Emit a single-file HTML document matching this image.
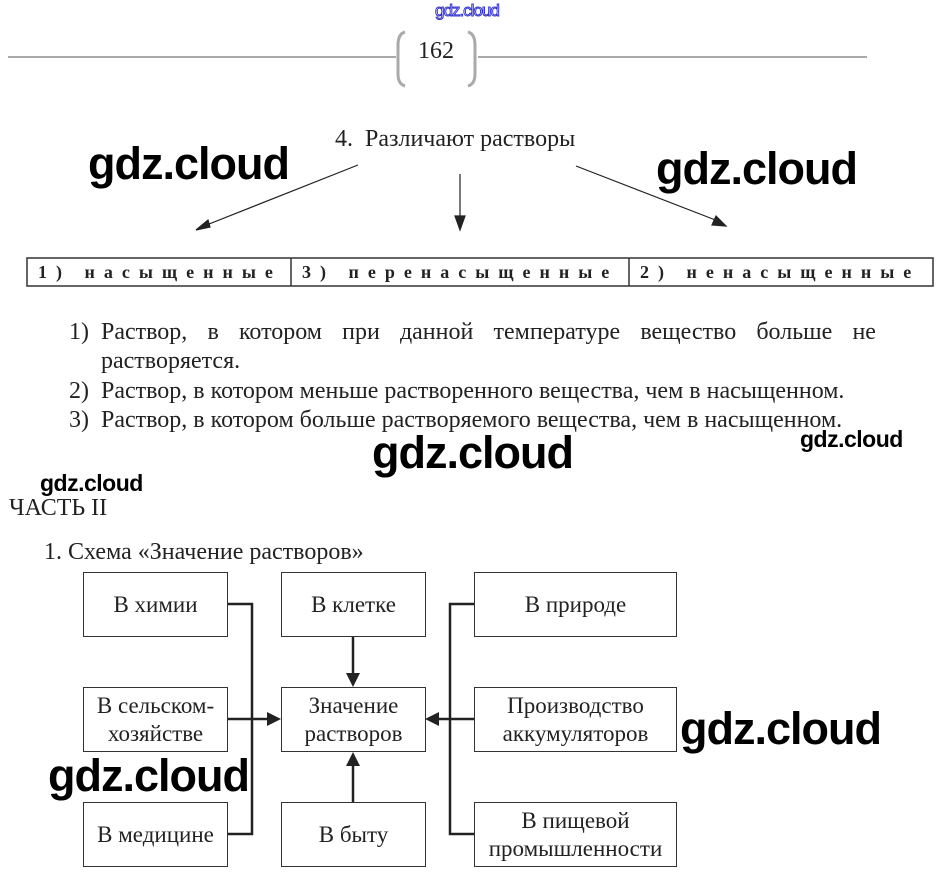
<!DOCTYPE html>
<html><head><meta charset="utf-8"><style>
body{margin:0;width:947px;height:889px;background:#fff;position:relative;overflow:hidden;font-family:"Liberation Serif",serif;color:#222}
.a{position:absolute;white-space:nowrap}
.s{font-size:24px;line-height:24px;transform-origin:0 0}
.wm{font-family:"Liberation Sans",sans-serif;font-weight:bold;color:#000;font-size:45px;letter-spacing:-1px}
.wm2{font-family:"Liberation Sans",sans-serif;font-weight:bold;color:#000;font-size:23px;letter-spacing:-0.5px}
.box{position:absolute;border:1.5px solid #333;box-sizing:border-box;display:flex;align-items:center;justify-content:center;text-align:center;font-size:23px;line-height:28px;color:#222}
.cell{position:absolute;top:259px;height:27px;font-weight:bold;font-size:18px;letter-spacing:9px;line-height:27px;padding-left:8px}
</style></head><body>
<div class="a" style="left:435px;top:1px;font-family:'Liberation Sans',sans-serif;font-size:17px;color:#fff;-webkit-text-stroke:1px #3333cc;letter-spacing:-1px">gdz.cloud</div>
<svg class="a" style="left:0;top:0" width="947" height="889">
<line x1="8" y1="57" x2="396" y2="57" stroke="#aaa" stroke-width="2"/>
<line x1="478" y1="57" x2="867" y2="57" stroke="#aaa" stroke-width="2"/>
<path d="M405 32 Q398 34 398 45 L398 74 Q398 84 405 86" fill="none" stroke="#aaa" stroke-width="3"/>
<path d="M468 32 Q475 34 475 45 L475 74 Q475 84 468 86" fill="none" stroke="#aaa" stroke-width="3"/>
<g stroke="#222" stroke-width="1.2" fill="#222">
<line x1="358" y1="165" x2="204" y2="226"/><polygon points="196,230 208,220 210,227"/>
<line x1="460" y1="174" x2="460" y2="222"/><polygon points="455,216 465,216 460,230"/>
<line x1="576" y1="166" x2="718" y2="221"/><polygon points="726,226 712,225 716,216"/>
</g>
<rect x="27" y="258" width="906" height="28" fill="none" stroke="#333" stroke-width="1.5"/>
<line x1="291" y1="258" x2="291" y2="286" stroke="#333" stroke-width="1.5"/>
<line x1="629" y1="258" x2="629" y2="286" stroke="#333" stroke-width="1.5"/>
<g stroke="#222" stroke-width="2.5" fill="none">
<polyline points="228,604 252,604 252,834 228,834"/>
<line x1="228" y1="719" x2="272" y2="719"/>
<polyline points="474,604 450,604 450,834 474,834"/>
<line x1="474" y1="719" x2="436" y2="719"/>
<line x1="353" y1="637" x2="353" y2="678"/>
<line x1="353" y1="802" x2="353" y2="762"/>
</g>
<g fill="#222">
<polygon points="281,719 267,712 267,726"/>
<polygon points="425,719 439,712 439,726"/>
<polygon points="353,687 346,673 360,673"/>
<polygon points="353,752 346,766 360,766"/>
</g>
</svg>
<div class="a" style="left:418px;top:38px;font-size:24px">162</div>
<div class="a s" style="left:335px;top:127px">4.&nbsp; Различают растворы</div>
<div class="a wm" style="left:88px;top:138px">gdz.cloud</div>
<div class="a wm" style="left:656px;top:143px">gdz.cloud</div>
<div class="cell" style="left:30px">1) насыщенные</div>
<div class="cell" style="left:294px">3) перенасыщенные</div>
<div class="cell" style="left:632px">2) ненасыщенные</div>
<div class="a s" style="left:69px;top:320px">1)</div>
<div class="a s" style="left:101px;top:320px;width:775px;display:flex;justify-content:space-between"><span>Раствор,</span><span>в</span><span>котором</span><span>при</span><span>данной</span><span>температуре</span><span>вещество</span><span>больше</span><span>не</span></div>
<div class="a s" style="left:101px;top:349px">растворяется.</div>
<div class="a s" style="left:69px;top:379px">2)&nbsp; Раствор, в котором меньше растворенного вещества, чем в насыщенном.</div>
<div class="a s" style="left:69px;top:408px">3)&nbsp; Раствор, в котором больше растворяемого вещества, чем в насыщенном.</div>
<div class="a wm2" style="left:800px;top:426px">gdz.cloud</div>
<div class="a wm" style="left:372px;top:427px">gdz.cloud</div>
<div class="a wm2" style="left:40px;top:470px">gdz.cloud</div>
<div class="a s" style="left:9px;top:496px">ЧАСТЬ II</div>
<div class="a s" style="left:44px;top:540px">1. Схема «Значение растворов»</div>
<div class="box" style="left:83px;top:572px;width:145px;height:65px">В химии</div>
<div class="box" style="left:281px;top:572px;width:145px;height:65px">В клетке</div>
<div class="box" style="left:474px;top:572px;width:203px;height:65px">В природе</div>
<div class="box" style="left:83px;top:687px;width:145px;height:65px">В сельском-<br>хозяйстве</div>
<div class="box" style="left:281px;top:687px;width:145px;height:65px">Значение<br>растворов</div>
<div class="box" style="left:474px;top:687px;width:203px;height:65px">Производство<br>аккумуляторов</div>
<div class="box" style="left:83px;top:802px;width:145px;height:65px">В медицине</div>
<div class="box" style="left:281px;top:802px;width:145px;height:65px">В быту</div>
<div class="box" style="left:474px;top:802px;width:203px;height:65px">В пищевой<br>промышленности</div>
<div class="a wm" style="left:48px;top:750px">gdz.cloud</div>
<div class="a wm" style="left:680px;top:703px">gdz.cloud</div>
</body></html>
